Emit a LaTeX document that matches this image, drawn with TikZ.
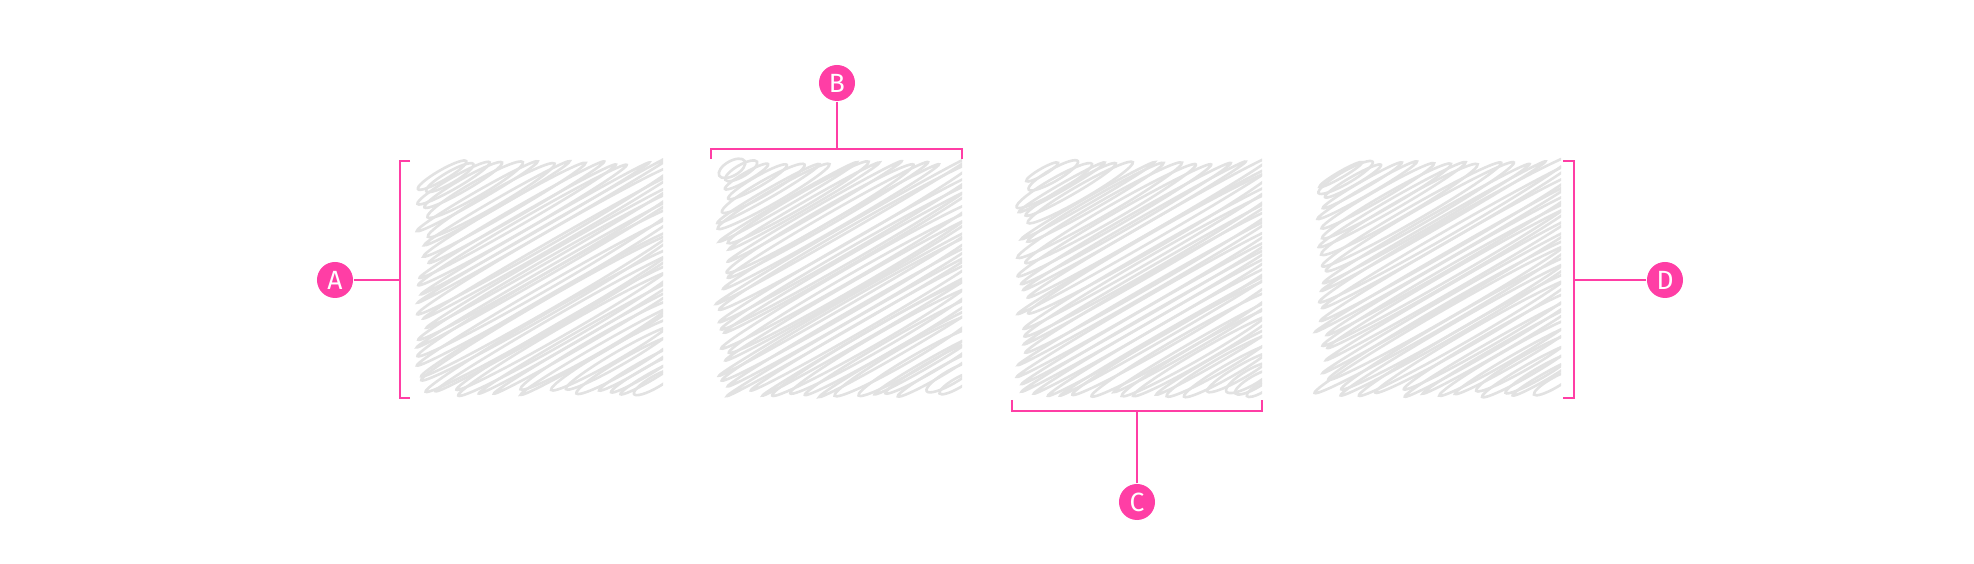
\documentclass[tikz,border=0pt]{standalone}
\usepackage{fontspec}
\setmainfont{Fira Sans}
\definecolor{accent}{HTML}{FF3EA5}
\definecolor{scrib}{HTML}{E2E2E2}
\tikzset{
  lbl/.style={circle, fill=accent, text=white, minimum size=0.36cm, inner sep=0pt, font=\fontsize{7.5}{8}\selectfont},
  brk/.style={draw=accent, line width=0.8pt},
  scr/.style={draw=scrib, line width=0.75pt},
}
\newcommand\scribblebox[2]{%
 \begin{scope}
  \clip (#1-40, #2-40) rectangle (#1+250, #2+280);
  \foreach \i in {0,...,42} {
   \pgfmathsetmacro\d{-125 + \i*7.8 + rnd*5}
   \pgfmathsetmacro\smin{max(0.577*\d, -1.732*\d)}
   \pgfmathsetmacro\sr{(250+0.5*\d)/0.866}
   \pgfmathsetmacro\st{2*238-1.732*\d}
   \pgfmathsetmacro\ext{\sr<\st ? 15 : -rnd*8}
   \pgfmathsetmacro\smax{min(\sr,\st)+\ext}
   \pgfmathsetmacro\sminj{\smin + 4 + rnd*16}
   \pgfmathsetmacro\sm{(\sminj+\smax)/2}
   \pgfmathsetmacro\hl{(\smax-\sminj)/2}
   \pgfmathsetmacro\cx{#1 - 0.5*\d + 0.866*\sm}
   \pgfmathsetmacro\cy{#2 + 0.866*\d + 0.5*\sm}
   \pgfmathsetmacro\bb{3+rnd*5}
   \ifdim\hl pt<14pt\relax\else
   \draw[scr, rotate around={30:(\cx,\cy)}] (\cx,\cy) ellipse [x radius=\hl*0.01cm, y radius=\bb*0.01cm];
   \fi
  }
 \end{scope}}
\begin{document}
\begin{tikzpicture}[x=0.01cm, y=0.01cm]
\useasboundingbox (0,0) rectangle (1974,564);
\pgfmathsetseed{7}
\scribblebox{413}{165}
\scribblebox{712}{165}
\scribblebox{1012}{165}
\scribblebox{1311}{165}
% labels
\node[lbl] (A) at (335,284) {A};
\node[lbl] (B) at (837,481) {B};
\node[lbl] (C) at (1137,62) {C};
\node[lbl] (D) at (1665,284) {D};
% brackets
\coordinate (am) at (400,284);
\coordinate (bm) at (837,415);
\coordinate (cm) at (1137,153);
\coordinate (dm) at (1574,284);
\draw[brk] (410,403) -- (400,403) -- (400,166) -- (410,166);
\draw[brk] (711,405) -- (711,415) -- (962,415) -- (962,405);
\draw[brk] (1012,164) -- (1012,153) -- (1262,153) -- (1262,164);
\draw[brk] (1563,403) -- (1574,403) -- (1574,166) -- (1563,166);
\draw[brk] (A) -- (am);
\draw[brk] (B) -- (bm);
\draw[brk] (C) -- (cm);
\draw[brk] (D) -- (dm);
\end{tikzpicture}
\end{document}
